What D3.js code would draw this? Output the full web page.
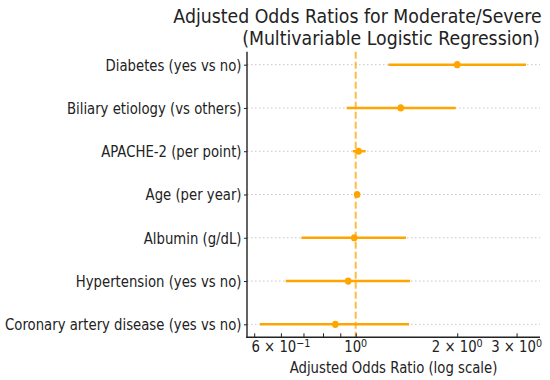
<!DOCTYPE html>
<html>
<head>
<meta charset="utf-8">
<script src="https://cdn.jsdelivr.net/npm/d3@7"></script>
<style>
  html, body { margin: 0; padding: 0; background: #fff; }
  svg text { font-family: "DejaVu Sans", sans-serif; fill: #222; }
</style>
</head>
<body>
<svg id="chart" width="550" height="380"></svg>
<script>
// ---- data ----
const categories = [
  "Diabetes (yes vs no)",
  "Biliary etiology (vs others)",
  "APACHE-2 (per point)",
  "Age (per year)",
  "Albumin (g/dL)",
  "Hypertension (yes vs no)",
  "Coronary artery disease (yes vs no)"
];
const oddsRatios = [2.00, 1.36, 1.02, 1.01, 0.99, 0.95, 0.87];
const ciLower    = [1.25, 0.94, 0.98, 1.00, 0.69, 0.62, 0.52];
const ciUpper    = [3.20, 1.98, 1.07, 1.02, 1.41, 1.45, 1.44];
const tickValues = [0.6, 1, 2, 3];
const tickMantissas = ["6 × 10", "10", "2 × 10", "3 × 10"];
const tickExponents = ["−1", "0", "0", "0"];
const minorTickValues = [0.5, 0.7, 0.8, 0.9];
const titleLines = ["Adjusted Odds Ratios for Moderate/Severe", "(Multivariable Logistic Regression)"];
const xLabel = "Adjusted Odds Ratio (log scale)";

// ---- layout ----
const svg = d3.select("#chart");
const plotLeft = 247, plotRight = 540, plotTop = 51.7, plotBottom = 337.3;
const sx = 0.872;      // horizontal squeeze of glyphs in the reference
const orange = "#FFA500";

const x = d3.scaleLog().domain([0.476, 3.52]).range([plotLeft, plotRight]);
const y = d3.scalePoint().domain(categories).range([plotTop, plotBottom]).padding(0.3);

const rows = categories.map((c, i) => ({c, or: oddsRatios[i], lo: ciLower[i], hi: ciUpper[i]}));

// grid lines
svg.append("g").selectAll("line").data(categories).join("line")
  .attr("x1", plotLeft).attr("x2", plotRight)
  .attr("y1", d => y(d)).attr("y2", d => y(d))
  .attr("stroke", "#c8c8c8").attr("stroke-width", 1)
  .attr("stroke-dasharray", "1.5,2.5");

// reference line at 1
svg.append("line")
  .attr("x1", x(1)).attr("x2", x(1)).attr("y1", plotTop).attr("y2", plotBottom)
  .attr("stroke", orange).attr("stroke-opacity", 0.75).attr("stroke-width", 2)
  .attr("stroke-dasharray", "7,3");

// error bars
svg.append("g").selectAll("line").data(rows).join("line")
  .attr("x1", d => x(d.lo)).attr("x2", d => x(d.hi))
  .attr("y1", d => y(d.c)).attr("y2", d => y(d.c))
  .attr("stroke", orange).attr("stroke-width", 2.5);

// points
svg.append("g").selectAll("ellipse").data(rows).join("ellipse")
  .attr("cx", d => x(d.or)).attr("cy", d => y(d.c))
  .attr("rx", 3.3).attr("ry", 3.6)
  .attr("fill", orange);

// y axis
const yAxis = svg.append("g").attr("transform", `translate(${plotLeft},0)`)
  .call(d3.axisLeft(y).tickSize(3).tickSizeOuter(0).tickPadding(0));
yAxis.select(".domain").remove();
yAxis.selectAll(".tick line").attr("stroke", "#222").attr("stroke-width", 1);
yAxis.selectAll(".tick text")
  .attr("x", -5.5 / sx).attr("dy", "0.36em")
  .attr("transform", `scale(${sx},1)`)
  .style("font-size", "15.2px").attr("fill", "#222");

// x axis
const xAxis = svg.append("g").attr("transform", `translate(0,${plotBottom})`)
  .call(d3.axisBottom(x).tickValues(tickValues.concat(minorTickValues))
    .tickFormat("").tickSize(-4).tickSizeOuter(0));
xAxis.select(".domain").remove();
xAxis.selectAll(".tick line").attr("stroke", "#222").attr("stroke-width", 1);

// x tick labels with superscripts
tickValues.forEach((v, i) => {
  const t = svg.append("text")
    .attr("transform", `translate(${x(v)},352.3) scale(${sx},1)`)
    .attr("text-anchor", "middle")
    .style("font-size", "15.2px");
  t.append("tspan").text(tickMantissas[i]);
  t.append("tspan").attr("dy", "-0.5em").style("font-size", "11px").text(tickExponents[i]);
});

// spines
svg.append("line").attr("x1", plotLeft).attr("x2", plotLeft).attr("y1", plotTop).attr("y2", plotBottom + 0.7)
  .attr("stroke", "#222").attr("stroke-width", 1.4);
svg.append("line").attr("x1", plotLeft - 0.7).attr("x2", plotRight).attr("y1", plotBottom).attr("y2", plotBottom)
  .attr("stroke", "#222").attr("stroke-width", 1.4);

// x label
svg.append("text")
  .attr("transform", `translate(${(plotLeft + plotRight) / 2},372.7) scale(${sx},1)`)
  .attr("text-anchor", "middle").style("font-size", "15.2px")
  .text(xLabel);

// title
const titleCenters = [357.5, 391];
const titleBaselines = [22.5, 45];
titleLines.forEach((line, i) => {
  svg.append("text")
    .attr("transform", `translate(${titleCenters[i]},${titleBaselines[i]}) scale(0.885,1)`)
    .attr("text-anchor", "middle").style("font-size", "19.6px")
    .attr("fill", "#222")
    .text(line);
});
</script>
</body>
</html>
